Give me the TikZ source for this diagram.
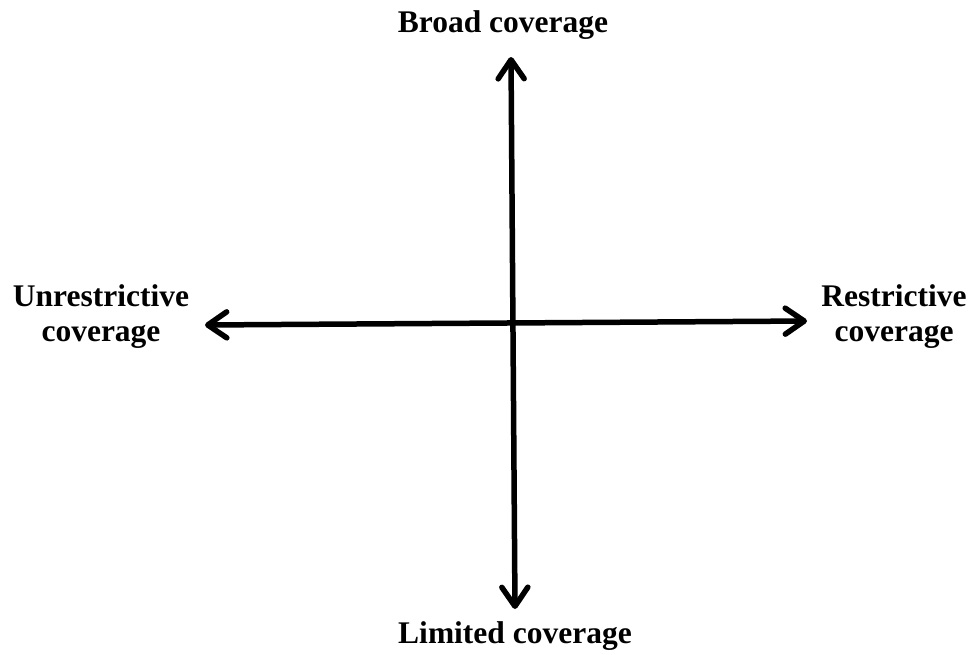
\documentclass[tikz,border=0pt]{standalone}
\usepackage{fontspec}
\setmainfont{Liberation Serif}
\usetikzlibrary{arrows.meta}
\begin{document}
\begin{tikzpicture}[x=1pt,y=-1pt,
  lbl/.style={font=\bfseries\fontsize{31.5}{35}\selectfont, align=center, inner sep=0pt},
  tipp/.style={Straight Barb[length=19pt,width=26pt,line width=6pt,round]},
  axis/.style={line width=5.5pt, {Straight Barb[length=19pt,width=26pt,round]}-{Straight Barb[length=19pt,width=26pt,round]}}]
\useasboundingbox (0,0) rectangle (971,654);
\coordinate (top) at (511,57);
\coordinate (bot) at (515,609);
\coordinate (lft) at (205,325);
\coordinate (rgt) at (807,321);
\draw[axis] (top) -- (bot);
\draw[axis] (lft) -- (rgt);
\node[lbl, anchor=base] (broad) at (503,32) {Broad coverage};
\node[lbl, anchor=base] (limited) at (515,643) {Limited coverage};
\node[lbl] (unres) at (101,317) {Unrestrictive\\coverage};
\node[lbl] (res) at (894,317) {Restrictive\\coverage};
\end{tikzpicture}
\end{document}
